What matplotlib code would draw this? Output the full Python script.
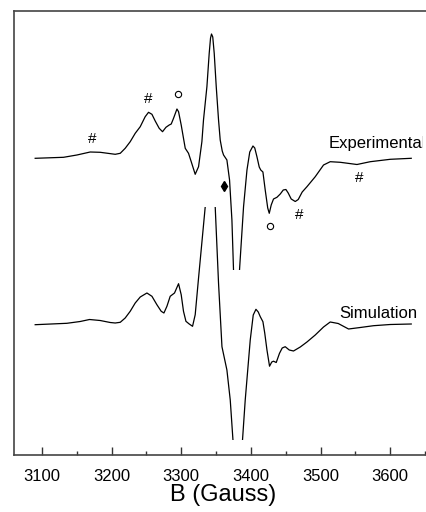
import matplotlib
matplotlib.use("Agg")
import matplotlib.pyplot as plt
from matplotlib.patches import Rectangle
from matplotlib.transforms import IdentityTransform
from matplotlib.ticker import MultipleLocator
import numpy as np

plt.rcParams['font.family'] = ['Liberation Sans', 'DejaVu Sans']

# Experimental spectrum (field in Gauss, derivative signal in arbitrary units)
exp_field = [3090.4, 3131.1, 3150.3, 3169.4, 3183.7, 3205.3, 3212.5, 3219.6, 3226.8, 3234.0,
             3241.2, 3248.3, 3253.1, 3258.0, 3262.7, 3268.4, 3273.2, 3278.1, 3282.8, 3285.7,
             3289.0, 3293.9, 3296.2, 3300.0, 3303.3, 3305.8, 3310.5, 3314.4, 3320.1, 3324.9,
             3329.7, 3332.0, 3336.9, 3340.2, 3342.1, 3343.5, 3345.3, 3347.4, 3350.3, 3353.6,
             3356.0, 3358.9, 3360.8, 3365.6, 3369.4, 3372.8,
             3375.1, 3379.4, 3383.7, 3389.5, 3394.4, 3398.4, 3403.0, 3405.6, 3408.7, 3412.0,
             3414.2, 3417.3, 3420.6, 3424.2, 3426.4, 3429.2, 3432.5, 3437.4, 3442.2, 3446.5,
             3450.3, 3453.6, 3457.9, 3463.7, 3468.0, 3473.7, 3480.5, 3492.4, 3504.3, 3513.9,
             3528.3, 3552.3, 3571.4, 3600.1, 3630.2]
exp_signal = [0, 1, 3.3, 6.3, 6, 4, 5, 10, 16.6, 25,
              31.6, 41.6, 46, 44, 37.3, 30, 26.6, 31, 33.3, 34.3,
              40, 49.3, 46.6, 33.3, 20, 10, 5, -3.4, -16, -8.4,
              16.6, 38.3, 71.6, 105, 120.3, 124.3, 121.3, 105, 71.6, 38.3,
              18.3, 7.3, 3.3, -1.7, -21.7, -61.7,
              -111.7, -181.7, -111.7, -48.4, -11.7, 6.3, 12.3, 10.3, 1.6, -8.7,
              -11.7, -13.7, -31.7, -49.7, -55, -46.7, -40.7, -39, -35.7, -31.7,
              -31.2, -34.7, -40.7, -43.2, -41.2, -33.7, -28.4, -18.4, -6.7, -3.4,
              -4, -6.2, -3.4, -1, 0]

# Simulated spectrum
sim_field = [3090.4, 3135.9, 3155.0, 3168.4, 3183.7, 3198.1, 3205.3, 3212.5, 3219.6, 3226.8,
             3234.0, 3241.2, 3250.8, 3258.0, 3265.1, 3271.3, 3275.2, 3279.5, 3284.2, 3290.4,
             3296.2, 3300.0, 3303.3, 3306.8, 3311.5, 3316.3, 3320.1, 3324.9, 3334.5, 3340.9,
             3348.8, 3353.6, 3358.5, 3365.6, 3370.4, 3374.3, 3381.1, 3388.0, 3391.9, 3399.1,
             3403.4, 3407.3, 3410.6, 3413.5, 3417.3, 3419.9, 3423.1, 3426.8, 3430.0, 3432.5,
             3436.4, 3441.1, 3445.0, 3449.3, 3455.1, 3461.2, 3470.9, 3480.5, 3492.4, 3504.3,
             3513.9, 3525.4, 3540.2, 3557.0, 3576.1, 3600.1, 3630.2]
sim_signal = [0, 1.4, 3.2, 5.2, 4.2, 2.2, 1.7, 2.4, 6.7, 13.4,
              21.7, 27.7, 31.7, 28.4, 20, 13.4, 11.7, 18.4, 28.4, 31.7,
              41, 30, 13.4, 3.4, 0.7, -1.6, 10, 46.7, 118, 174.7,
              118, 41.4, -22, -45.3, -75.3, -115.3, -185.3, -115.3, -75.3, -15.3,
              9.7, 15.4, 12.7, 8, 3, -8.3, -25.3, -41.5, -37.3, -36.5,
              -37.8, -28.6, -23.3, -22, -25.3, -26.3, -22.3, -17.3, -10.3, -2.3,
              2.7, 1.2, -4.3, -2.8, -1, 0.2, 0.7]

tick_values = [3100, 3200, 3300, 3400, 3500, 3600]
series_labels = ["Experimental", "Simulation"]
exp_offset = 296.7
sim_offset = 130.3

fig = plt.figure(figsize=(4.27, 5.12), dpi=100)
ax = fig.add_axes([14 / 427, 57 / 512, 418 / 427, 444 / 512])
ax.set_xlim(3060, 3660)
ax.set_ylim(0, 444)

l1, = ax.plot(exp_field, np.array(exp_signal) + exp_offset, color='black', lw=0.9)
l1.set_clip_path(Rectangle((3000, 185), 800, 400, transform=ax.transData))
l2, = ax.plot(sim_field, np.array(sim_signal) + sim_offset, color='black', lw=0.9)
l2.set_clip_path(Rectangle((3000, 15), 800, 233.3, transform=ax.transData))

t1 = ax.text(3511, 307, series_labels[0], fontsize=12, ha='left', va='baseline',
             clip_on=True)
t1.set_clip_path(Rectangle((0, 0), 422.5, 512, transform=IdentityTransform()))
ax.text(3527, 137.3, series_labels[1], fontsize=12, ha='left', va='baseline')

# peak markers
hash_pos = [(3172, 316), (3253, 356), (3470, 240), (3556, 277)]
for hx, hy in hash_pos:
    ax.text(hx, hy, "#", fontsize=11, ha='center', va='center')
circ_pos = [(3296, 360.7), (3427, 229)]
ax.plot([p[0] for p in circ_pos], [p[1] for p in circ_pos], 'o', ms=4.5,
        mfc='white', mec='black', mew=0.8)
ax.plot([3361], [269.3], 'd', ms=5, color='black')

ax.set_yticks([])
ax.set_xticks(tick_values)
ax.xaxis.set_minor_locator(MultipleLocator(50))
ax.tick_params(axis='x', which='major', direction='in', length=6, width=1,
               labelsize=12, pad=10, color='#333333')
ax.tick_params(axis='x', which='minor', direction='in', length=3, width=1, color='#333333')
ax.set_xlabel("B (Gauss)", fontsize=17, labelpad=0)
for s in ['left', 'top', 'bottom']:
    ax.spines[s].set_color('#444444')
    ax.spines[s].set_linewidth(1.2)
ax.spines['right'].set_visible(False)

fig.savefig("out.png", dpi=100)
